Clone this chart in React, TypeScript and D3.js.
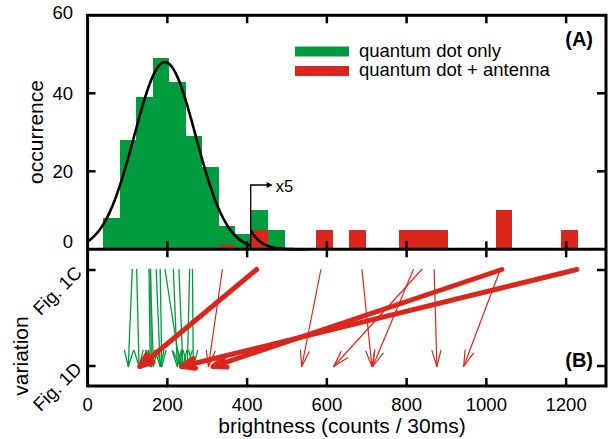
import React from 'react';
import * as d3 from 'd3';

// histogram (panel A): bins of ~41 counts, values beyond the x5 mark already multiplied by 5
const BIN_WIDTH = 41.3;
const greenBinStart = [39, 81, 122, 164, 205, 246, 288, 329, 370, 411, 453];
const greenCount = [8, 28, 39, 49, 43, 29, 21, 6, 4, 10, 5];
const redBinStart = [329, 411, 574, 656, 780, 822, 863, 1024, 1188];
const redCount = [1, 5, 5, 5, 5, 5, 5, 10, 5];

// gaussian fit of the "quantum dot only" distribution
const fitAmp = 48;
const fitMean = 194;
const fitSigma = 77;
const zoomFrom = 409; // x5 magnification starts here
const zoomFactor = 5;

// panel B: brightness at Fig. 1C -> Fig. 1D
const greenFrom = [112, 123, 154, 157, 158, 172, 182, 194, 215, 229, 256, 263];
const greenTo = [102, 129, 157, 165, 160, 182, 186, 232, 225, 239, 250, 265];
const redThinFrom = [338, 585, 688, 817, 838, 869, 1035];
const redThinTo = [303, 537, 713, 715, 617, 876, 943];
const redThickFrom = [424, 1039, 1227];
const redThickTo = [131, 315, 236];

const xTicks = [0, 200, 400, 600, 800, 1000, 1200];
const yTicksA = [0, 20, 40, 60];
const variationLevels = ['Fig. 1C', 'Fig. 1D'];

const GREEN = '#009b3d';
const RED = '#da261d';
const FONT = 'Liberation Sans, Arial, Helvetica, sans-serif';

const L = 87.6;
const R = 606;
const TOP = 15.3;
const MID = 249.3;
const BOT = 386;

const x = d3.scaleLinear().domain([0, 1300]).range([L, R]);
const yA = d3.scaleLinear().domain([0, 60]).range([MID, TOP]);
const yB = d3.scalePoint<string>().domain(variationLevels).range([270, 366]);

const gauss = (v: number) => fitAmp * Math.exp(-((v - fitMean) ** 2) / (2 * fitSigma * fitSigma));

const Arrow = ({ from, to, color, width, head, half }: any) => {
  const x1 = x(from), y1 = yB('Fig. 1C')! - 0.5;
  const x2 = x(to), y2 = yB('Fig. 1D')! + 0.5;
  const ang = Math.atan2(y2 - y1, x2 - x1);
  const p = (a: number) => [x2 - head * Math.cos(ang) + a * half * Math.sin(ang), y2 - head * Math.sin(ang) - a * half * Math.cos(ang)];
  const [ax, ay] = p(1);
  const [bx, by] = p(-1);
  return (
    <g stroke={color} strokeWidth={width} fill="none" strokeLinecap="round" strokeLinejoin="round">
      <line x1={x1} y1={y1} x2={x2} y2={y2} />
      <path d={`M${ax},${ay}L${x2},${y2}L${bx},${by}`} />
    </g>
  );
};

export default function App() {
  const line = d3.line<number>().x(v => x(v)).y(v => yA(gauss(v))).curve(d3.curveBasis);
  const lineZoom = d3.line<number>().x(v => x(v)).y(v => yA(gauss(v) * zoomFactor));
  const fitLow = d3.range(0, zoomFrom + 0.1, 4);
  const fitHigh = d3.range(zoomFrom, 560, 4);

  return (
    <svg width={614} height={439} style={{ position: 'absolute', left: 0, top: 0, background: '#fff' }} fontFamily={FONT}>
      {/* panel A histogram */}
      <g shapeRendering="crispEdges">
        {greenBinStart.map((b, i) => (
          <rect key={'g' + i} x={x(b)} width={x(b + BIN_WIDTH) - x(b)} y={yA(greenCount[i])} height={MID - yA(greenCount[i])} fill={GREEN} />
        ))}
        {redBinStart.map((b, i) => (
          <rect key={'r' + i} x={x(b)} width={x(b + BIN_WIDTH) - x(b)} y={yA(redCount[i])} height={MID - yA(redCount[i])} fill={RED} />
        ))}
      </g>
      <path d={line(fitLow)!} fill="none" stroke="#000" strokeWidth={2.6} />
      <path d={lineZoom(fitHigh)!} fill="none" stroke="#000" strokeWidth={2.6} />

      {/* x5 marker */}
      <path d={`M${x(zoomFrom)},${MID}V185H${x(zoomFrom) + 17}`} stroke="#000" strokeWidth={1.3} fill="none" />
      <path d={`M${x(zoomFrom) + 22},185l-6,-3v6z`} fill="#000" />
      <text x={x(zoomFrom) + 25} y={192} fontSize={16.5}>x5</text>

      {/* legend */}
      <rect x={295} y={46.5} width={54} height={10} fill={GREEN} />
      <rect x={295} y={66} width={54} height={10} fill={RED} />
      <text x={359} y={57} fontSize={18.5}>quantum dot only</text>
      <text x={359} y={76} fontSize={18.5}>quantum dot + antenna</text>
      <text x={593} y={46} fontSize={20} fontWeight="bold" textAnchor="end">(A)</text>

      {/* panel B arrows */}
      {greenFrom.map((f, i) => (
        <Arrow key={'ga' + i} from={f} to={greenTo[i]} color={GREEN} width={1.3} head={16} half={4.5} />
      ))}
      {redThinFrom.map((f, i) => (
        <Arrow key={'rt' + i} from={f} to={redThinTo[i]} color={RED} width={1.2} head={16} half={4.5} />
      ))}
      {redThickFrom.map((f, i) => (
        <Arrow key={'rk' + i} from={f} to={redThickTo[i]} color={RED} width={5} head={13} half={5} />
      ))}
      <text x={593} y={367} fontSize={20} fontWeight="bold" textAnchor="end">(B)</text>

      {/* frames */}
      <g fill="none" stroke="#000" strokeWidth={3}>
        <rect x={L} y={TOP} width={R - L} height={BOT - TOP} />
        <line x1={L} x2={R} y1={MID} y2={MID} />
      </g>

      {/* ticks */}
      <g stroke="#000" strokeWidth={2.5}>
        {xTicks.filter(t => t > 0).map(t => (
          <g key={'xt' + t}>
            <line x1={x(t)} x2={x(t)} y1={TOP} y2={TOP + 8} />
            <line x1={x(t)} x2={x(t)} y1={MID - 8} y2={MID + 8} />
            <line x1={x(t)} x2={x(t)} y1={BOT} y2={BOT - 8} />
          </g>
        ))}
        {yTicksA.filter(t => t > 0 && t < 60).map(t => (
          <g key={'yt' + t}>
            <line x1={L} x2={L + 8} y1={yA(t)} y2={yA(t)} />
            <line x1={R} x2={R - 9} y1={yA(t)} y2={yA(t)} />
          </g>
        ))}
        {variationLevels.map(v => (
          <g key={'bt' + v}>
            <line x1={L} x2={L + 8} y1={yB(v)} y2={yB(v)} />
            <line x1={R} x2={R - 9} y1={yB(v)} y2={yB(v)} />
          </g>
        ))}
      </g>

      {/* tick labels */}
      <g fontSize={18.5}>
        {xTicks.map(t => (
          <text key={'xl' + t} x={x(t)} y={411} textAnchor="middle">{t}</text>
        ))}
        {yTicksA.map(t => (
          <text key={'yl' + t} x={73} y={yA(t) + (t === 0 ? -1 : t === 60 ? 4 : 6.5)} textAnchor="end">{t}</text>
        ))}
        {variationLevels.map(v => (
          <text key={'vl' + v} transform={`translate(${83},${yB(v)! + 4}) rotate(-45)`} textAnchor="end">{v}</text>
        ))}
      </g>

      {/* axis titles */}
      <text fontSize={21} textAnchor="middle" transform={`translate(43,132) rotate(-90)`}>occurrence</text>
      <text fontSize={21} textAnchor="middle" transform={`translate(28,356) rotate(-90)`}>variation</text>
      <text fontSize={21} x={342} y={433} textAnchor="middle">brightness (counts / 30ms)</text>
    </svg>
  );
}
